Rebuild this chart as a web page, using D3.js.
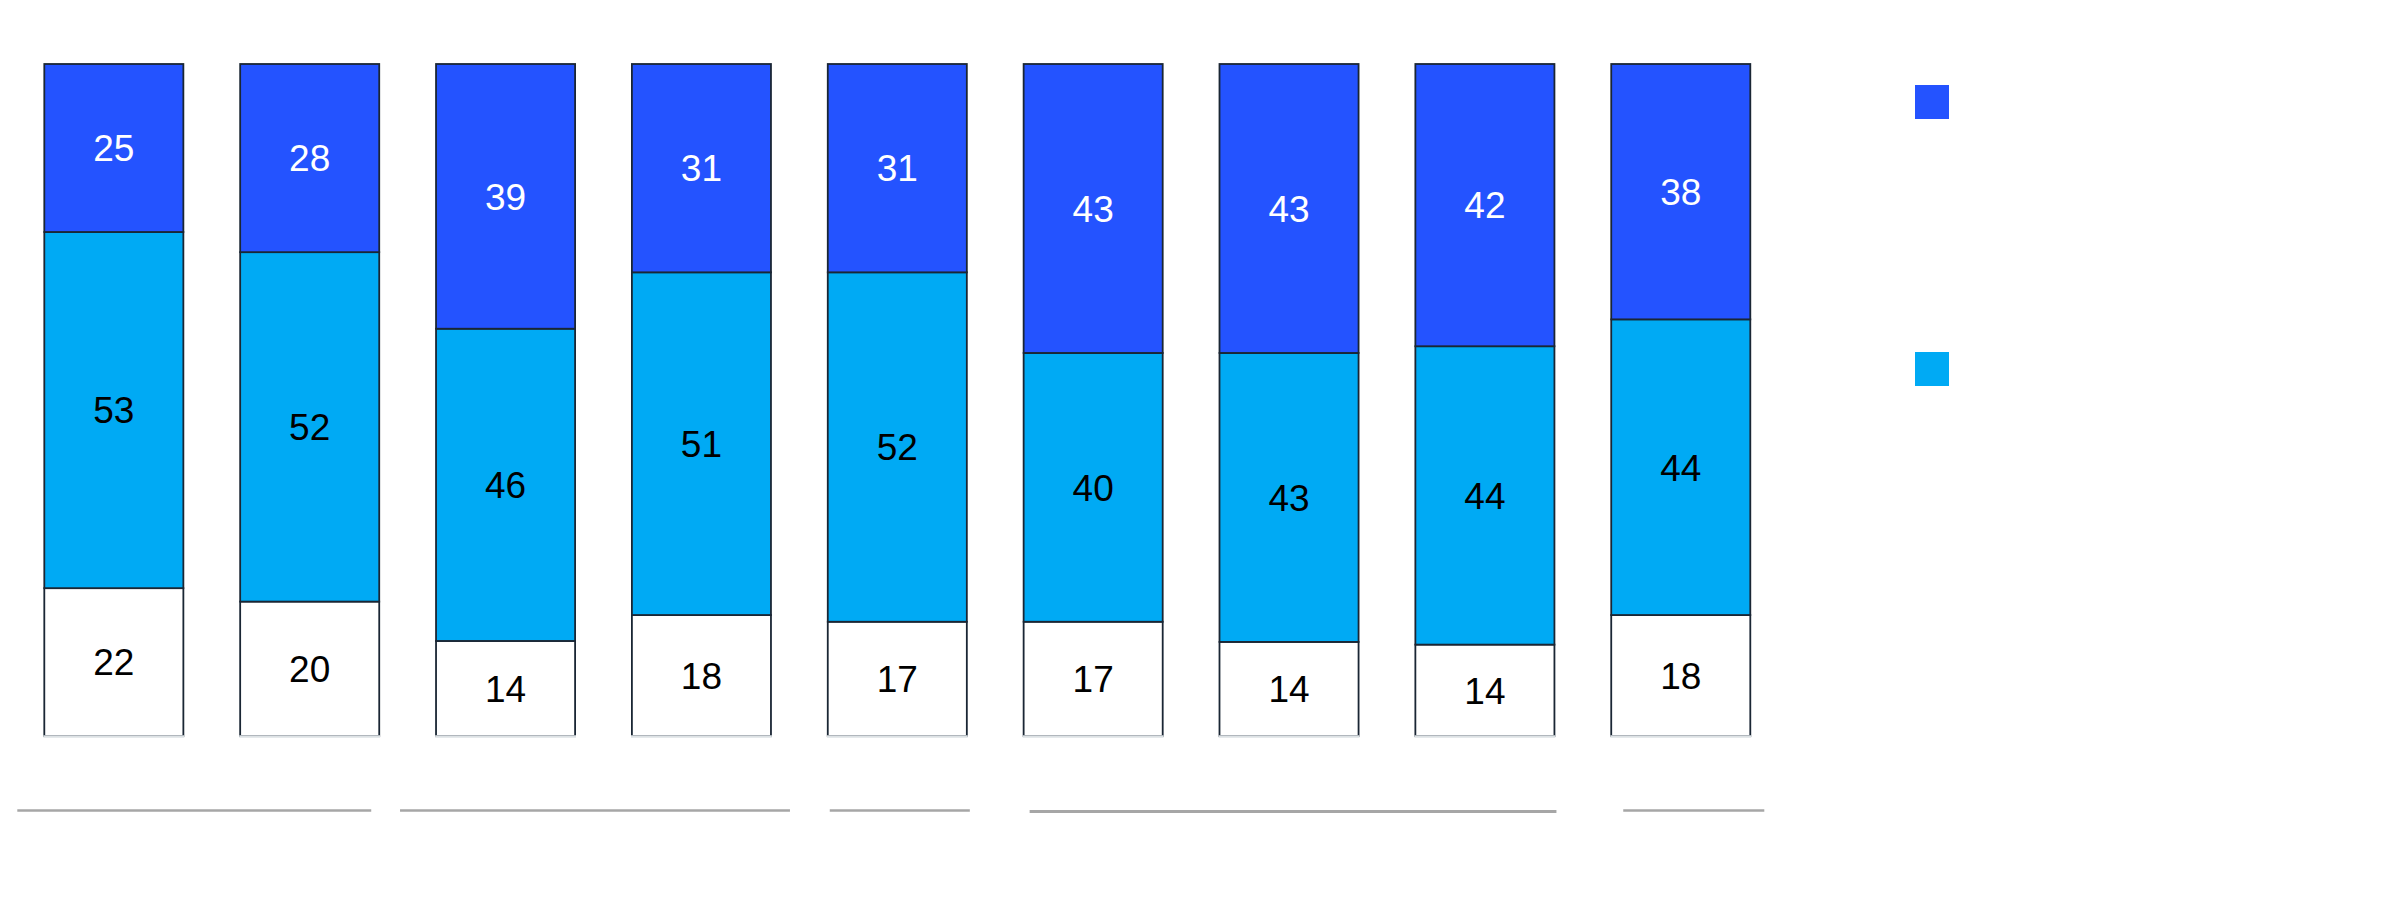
<!DOCTYPE html>
<html>
<head>
<meta charset="utf-8">
<script src="https://cdn.jsdelivr.net/npm/d3@7"></script>
<style>
  body { margin: 0; background: #fff; }
  svg { display: block; }
  .lbl { font-family: "Liberation Sans", Arial, sans-serif; font-size: 37px; }
</style>
</head>
<body>
<div id="chart"></div>
<script>
// data (labels are shown rounded)
var categories = ["c1", "c2", "c3", "c4", "c5", "c6", "c7", "c8", "c9"];
var seriesNames = ["top", "middle", "bottom"];
var topValues    = [25, 28, 39, 31, 31, 43, 43, 42.0, 38];
var middleValues = [53, 52, 46, 51, 52, 40, 43, 44.4, 44];
var bottomValues = [22, 20, 14, 18, 17, 17, 14, 13.6, 18];
// groups under the bars: first and last category index
var groupFirst = [0, 2, 4, 5, 8];
var groupLast  = [1, 3, 4, 7, 8];

var svgWidth = 2400;
var svgHeight = 902;

var colors = ["#2453ff", "#00aaf4", "#ffffff"];
var textColors = ["#ffffff", "#000000", "#000000"];

var svg = d3.select("#chart")
    .append("svg")
    .attr("width", svgWidth)
    .attr("height", svgHeight);

// scales
var x = d3.scaleBand()
    .domain(categories)
    .range([44.3, 1750.3])
    .paddingInner(0.29)
    .paddingOuter(0);

var y = d3.scaleLinear()
    .domain([0, 100])
    .range([736, 64]);

// build rows, normalised so each bar fills 100
var rows = categories.map(function(c, i) {
    var total = topValues[i] + middleValues[i] + bottomValues[i];
    return {
        cat: c,
        bottom: bottomValues[i] * 100 / total,
        middle: middleValues[i] * 100 / total,
        top: topValues[i] * 100 / total,
        raw: { top: topValues[i], middle: middleValues[i], bottom: bottomValues[i] }
    };
});

var stack = d3.stack().keys(["bottom", "middle", "top"]);
var stacked = stack(rows);

var layer = svg.selectAll("g.layer")
    .data(stacked)
    .enter()
    .append("g")
    .attr("class", "layer");

layer.selectAll("rect")
    .data(function(d) { return d.map(function(p) { return { key: d.key, p: p }; }); })
    .enter()
    .append("rect")
    .attr("x", function(d) { return x(d.p.data.cat); })
    .attr("y", function(d) { return y(d.p[1]); })
    .attr("width", x.bandwidth())
    .attr("height", function(d) { return y(d.p[0]) - y(d.p[1]); })
    .attr("fill", function(d) { return colors[seriesNames.indexOf(d.key)]; })
    .attr("stroke", "#1a2634")
    .attr("stroke-width", 1.8);

// light baseline under each bar
svg.selectAll("line.base")
    .data(categories)
    .enter()
    .append("line")
    .attr("class", "base")
    .attr("x1", function(d) { return x(d) - 0.9; })
    .attr("x2", function(d) { return x(d) + x.bandwidth() + 0.9; })
    .attr("y1", y(0) + 0.5)
    .attr("y2", y(0) + 0.5)
    .attr("stroke", "#dde2e5")
    .attr("stroke-width", 2.5);

// value labels
layer.selectAll("text")
    .data(function(d) { return d.map(function(p) { return { key: d.key, p: p }; }); })
    .enter()
    .append("text")
    .attr("class", "lbl")
    .attr("x", function(d) { return x(d.p.data.cat) + x.bandwidth() / 2; })
    .attr("y", function(d) { return (y(d.p[0]) + y(d.p[1])) / 2; })
    .attr("dy", "0.36em")
    .attr("text-anchor", "middle")
    .attr("fill", function(d) { return textColors[seriesNames.indexOf(d.key)]; })
    .text(function(d) { return Math.round(d.p.data.raw[d.key]); });

// group lines below the chart
var groupPadLeft  = [27, 36, -2, -6, -12];
var groupPadRight = [-8, 19, 3, 2, 14];
svg.selectAll("line.grp")
    .data(groupFirst)
    .enter()
    .append("line")
    .attr("class", "grp")
    .attr("x1", function(d, i) { return x(categories[d]) - groupPadLeft[i]; })
    .attr("x2", function(d, i) { return x(categories[groupLast[i]]) + x.bandwidth() + groupPadRight[i]; })
    .attr("y1", function(d, i) { return i === 3 ? 811.5 : 810.5; })
    .attr("y2", function(d, i) { return i === 3 ? 811.5 : 810.5; })
    .attr("stroke", "#a6a6a6")
    .attr("stroke-width", function(d, i) { return i === 3 ? 3 : 2.5; });

// legend swatches
var legend = svg.selectAll("rect.leg")
    .data(seriesNames.slice(0, 2))
    .enter()
    .append("rect")
    .attr("class", "leg")
    .attr("x", 1915)
    .attr("y", function(d, i) { return 85 + i * 267; })
    .attr("width", 34)
    .attr("height", 34)
    .attr("fill", function(d, i) { return colors[i]; });
</script>
</body>
</html>
